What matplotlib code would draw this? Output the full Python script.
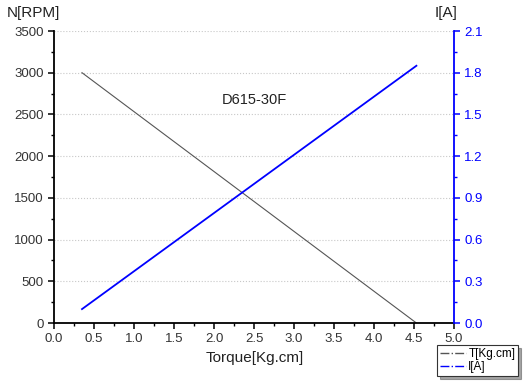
import matplotlib
matplotlib.use("Agg")
import matplotlib.pyplot as plt
from matplotlib.ticker import MultipleLocator
from matplotlib.lines import Line2D

plt.rcParams['font.family'] = ['Liberation Sans', 'DejaVu Sans']

torque = [0.35, 4.53]
speed_rpm = [3000, 0]
current_a = [0.1, 1.85]
title_text = "D615-30F"

fig = plt.figure(figsize=(5.25, 3.83), dpi=100)
ax = fig.add_axes([54/525, 1-323/383, 400/525, 292/383])
ax2 = ax.twinx()

ax.plot(torque, speed_rpm, color='#555555', lw=0.8)
ax2.plot(torque, current_a, color='#0000ff', lw=1.3)

ax.set_xlim(0, 5)
ax.set_ylim(0, 3500)
ax2.set_ylim(0, 2.1)
ax.xaxis.set_major_locator(MultipleLocator(0.5))
ax.xaxis.set_minor_locator(MultipleLocator(0.25))
ax.yaxis.set_major_locator(MultipleLocator(500))
ax.yaxis.set_minor_locator(MultipleLocator(250))
ax2.yaxis.set_major_locator(MultipleLocator(0.3))
ax2.yaxis.set_minor_locator(MultipleLocator(0.15))
ax.xaxis.set_major_formatter(plt.FormatStrFormatter('%.1f'))
ax2.yaxis.set_major_formatter(plt.FormatStrFormatter('%.1f'))

ax.grid(axis='y', which='major', color='#c8c8c8', linestyle=':', lw=0.8)

for a in (ax, ax2):
    a.spines['top'].set_visible(False)
ax.spines['right'].set_visible(False)
ax2.spines['left'].set_visible(False)
ax2.spines['bottom'].set_visible(False)
ax2.spines['right'].set_color('#0000ff')
ax2.spines['right'].set_linewidth(1.3)
ax.spines['left'].set_linewidth(1.3)
ax.spines['bottom'].set_linewidth(1.3)

ax.tick_params(axis='both', which='major', direction='out', length=4, width=1.1, labelsize=9.5, colors='black', labelcolor='#333333')
ax.tick_params(axis='both', which='minor', direction='out', length=2.5, width=1.0)
ax2.tick_params(axis='y', which='major', direction='out', length=4, width=1.1, labelsize=9.5, colors='#0000ff')
ax2.tick_params(axis='y', which='minor', direction='out', length=2.5, width=1.0, colors='#0000ff')

ax.text(0.5, 0.765, title_text, transform=ax.transAxes, ha='center', va='center', fontsize=10.5, color='#222222')

fig.text(7/525, 1-13/383, "N[RPM]", fontsize=11, ha='left', va='center', color='#222222')
fig.text(446/525, 1-13/383, "I[A]", fontsize=11, ha='center', va='center', color='#222222')
fig.text(255/525, 1-358/383, "Torque[Kg.cm]", fontsize=11, ha='center', va='center', color='#222222')

handles = [Line2D([], [], color='#555555', ls='-.', lw=1.0, label='T[Kg.cm]'),
           Line2D([], [], color='#0000ff', ls='-.', lw=1.0, label='I[A]')]
leg = fig.legend(handles=handles, loc='upper left', bbox_to_anchor=(437/525, 1-345/383),
                 fontsize=8.5, frameon=True, fancybox=False, shadow=True,
                 handlelength=2.2, handletextpad=0.2, borderpad=0.25, labelspacing=0.1,
                 borderaxespad=0)
leg.get_frame().set_edgecolor('#333333')
leg.get_frame().set_linewidth(0.8)

fig.savefig("out.png", dpi=100)
